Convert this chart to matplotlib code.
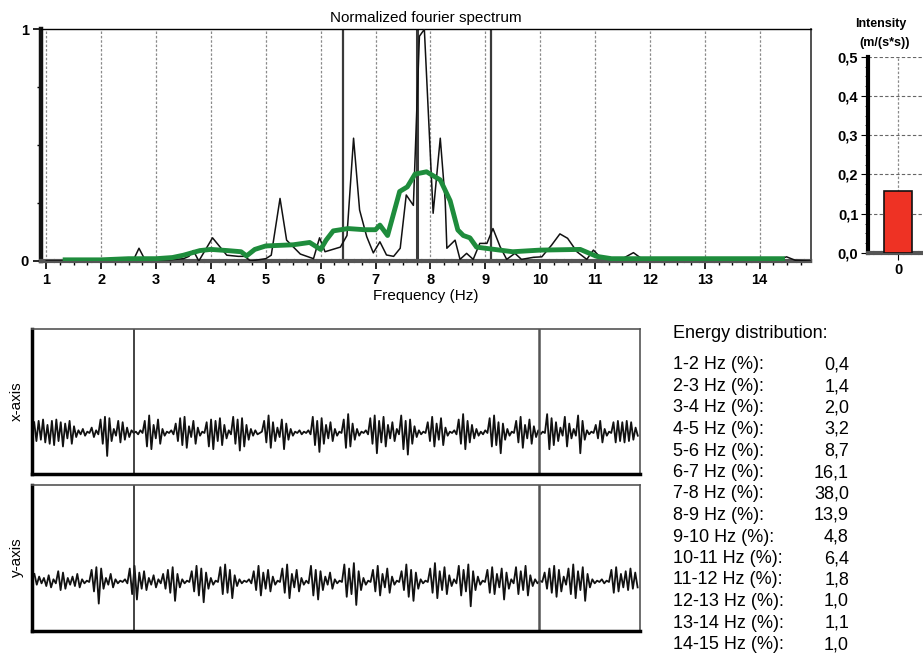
import matplotlib
matplotlib.use("Agg")
import matplotlib.pyplot as plt
import numpy as np

plt.rcParams['font.family'] = ['Liberation Sans', 'DejaVu Sans']

# spectrum (raw, black)
spec_f = [1.00, 1.50, 2.00, 2.50, 2.58, 2.69, 2.80, 3.00, 3.25, 3.50, 3.60, 3.68, 3.78,
          4.03, 4.29, 4.50, 4.62, 4.72, 5.00, 5.10, 5.26, 5.38, 5.63, 5.87, 5.98, 6.08,
          6.36, 6.48, 6.60, 6.71, 6.84, 6.96, 7.08, 7.20, 7.33, 7.45, 7.56, 7.69, 7.80,
          7.89, 8.05, 8.18, 8.27, 8.30, 8.45, 8.54, 8.66, 8.78, 8.90, 9.03, 9.14, 9.27,
          9.39, 9.54, 9.66, 9.88, 10.03, 10.21, 10.36, 10.50, 10.67, 10.85, 10.97, 11.09,
          11.46, 11.70, 11.85, 12.50, 13.50, 14.30, 14.49, 14.65, 14.92]
spec_v = [0.00, 0.00, 0.00, 0.00, 0.00, 0.055, 0.005, 0.005, 0.005, 0.01, 0.02, 0.045, 0.00,
          0.10, 0.025, 0.02, 0.02, 0.00, 0.01, 0.025, 0.27, 0.09, 0.03, 0.01, 0.10, 0.04,
          0.06, 0.11, 0.53, 0.22, 0.105, 0.035, 0.083, 0.026, 0.02, 0.055, 0.285, 0.24, 0.97,
          1.00, 0.206, 0.53, 0.26, 0.055, 0.09, 0.007, 0.033, 0.007, 0.076, 0.076, 0.14, 0.062,
          0.007, 0.033, 0.007, 0.016, 0.018, 0.069, 0.117, 0.098, 0.04, 0.007, 0.047, 0.018,
          0.005, 0.036, 0.01, 0.003, 0.003, 0.003, 0.018, 0.003, 0.0]

# smoothed spectrum (green)
smooth_f = [1.30, 2.00, 2.50, 3.00, 3.30, 3.50, 3.80, 4.00, 4.30, 4.55, 4.65, 4.80, 5.00,
            5.50, 5.80, 5.90, 6.00, 6.10, 6.23, 6.50, 6.80, 7.00, 7.08, 7.22, 7.44, 7.58,
            7.72, 7.93, 8.18, 8.36, 8.50, 8.60, 8.72, 8.84, 9.00, 9.50, 10.00, 10.73, 11.03,
            11.30, 12.00, 13.00, 14.00, 14.46]
smooth_v = [0.005, 0.005, 0.01, 0.01, 0.015, 0.025, 0.045, 0.05, 0.045, 0.04, 0.022, 0.05, 0.065,
            0.07, 0.08, 0.065, 0.05, 0.09, 0.13, 0.14, 0.135, 0.135, 0.155, 0.11, 0.30, 0.32,
            0.375, 0.385, 0.35, 0.26, 0.134, 0.11, 0.10, 0.06, 0.055, 0.04, 0.047, 0.05, 0.02,
            0.01, 0.01, 0.01, 0.01, 0.01]

marker_freqs = [6.4, 7.75, 9.1]
intensity = [0.157]

bands = ['1-2 Hz (%):', '2-3 Hz (%):', '3-4 Hz (%):', '4-5 Hz (%):', '5-6 Hz (%):',
         '6-7 Hz (%):', '7-8 Hz (%):', '8-9 Hz (%):', '9-10 Hz (%):', '10-11 Hz (%):',
         '11-12 Hz (%):', '12-13 Hz (%):', '13-14 Hz (%):', '14-15 Hz (%):']
energy = ['0,4', '1,4', '2,0', '3,2', '8,7', '16,1', '38,0', '13,9', '4,8', '6,4',
          '1,8', '1,0', '1,1', '1,0']

# time signals (arbitrary units, up = positive)
sig_x = [8, -6, 9, -5, 10, -7, 6, -8, 9, -9, 10, -6, 8, -10, 7, -4, 9, -8, 5, -3,
         2, -1, 3, -2, 1, 0, 4, -3, 2, -1,
         10, -8, 12, -17, 11, -6, 3, -2, 9, -7, 8, -5,
         4, -3, 2, 0, 1, -1, 2, 0,
         9, -10, 13, -12, 6, -4, 10, -8, 3, -2, 1, 0, 2, -1,
         7, -6, 11, -9, 12, -11, 5, -3, 9, -8, 4, -2, 1, 0,
         8, -10, 10, -12, 9, -6, 11, -9, 6, -4, 2, -1,
         12, -8, 10, -13, 11, -10, 6, -5, 3, -2, 2, -1, 0, 1,
         9, -7, 13, -11, 8, -6, 4, -3, 10, -12, 7, -5,
         3, -2, 1, 0, 2, -1, 1, 0, 2, -1,
         12, -9, 9, -14, 11, -8, 6, -4, 8, -6, 3, -2, 1, 0,
         10, -11, 14, -10, 7, -5, 3, -2, 1, 0, 2, -1,
         11, -8, 13, -15, 9, -7, 12, -10, 6, -4, 8, -6, 3, -1,
         13, -12, 9, -16, 10, -8, 5, -3, 2, -1, 1, 0,
         8, -6, 12, -10, 7, -5, 11, -9, 4, -2, 1, 0, 2, -1,
         10, -8, 14, -12, 9, -7, 6, -4, 3, -2, 1, -1, 2, 0,
         11, -10, 13, -9, 8, -15, 7, -5, 3, -2, 1, 0,
         9, -7, 12, -11, 6, -4, 10, -8, 5, -3, 2, -1, 1, 0,
         14, -12, 11, -9, 8, -6, 4, -2, 12, -10, 7, -4,
         3, -2, 13, -15, 9, -5, 2, -1, 1, 0,
         6, -4, 9, -7, 3, -2, 1, 0, 8, -7, 9, -6,
         8, -7, 9, -6, 8, -5, 4, -2]
sig_y = [6, -2, 4, -1, 3, -3, 5, -4, 2, -1, 8, -6, 7, -5, 3, -2,
         4, -3, 6, -4, 2, -1, 1, 0,
         9, -7, 11, -16, 10, -5, 3, -2, 6, -4, 2, -1,
         1, 0, 2, -1,
         10, -9, 12, -13, 7, -5, 8, -6, 3, -2, 5, -4, 2, -1,
         6, -5, 9, -8, 11, -14, 6, -4, 2, -1, 1, 0,
         8, -7, 12, -10, 10, -15, 7, -5, 3, -2, 1, 0,
         11, -9, 13, -8, 9, -12, 5, -3, 2, -1, 1, 0, 2, -1,
         8, -6, 12, -10, 7, -5, 9, -7, 4, -2, 1, 0,
         10, -8, 13, -12, 6, -4, 9, -7, 3, -2, 1, -1,
         12, -10, 9, -13, 8, -6, 4, -2, 7, -5, 2, -1, 1, 0,
         13, -11, 10, -9, 14, -17, 8, -6, 3, -2, 1, 0,
         9, -7, 12, -10, 6, -4, 10, -8, 4, -2, 1, 0,
         8, -6, 13, -11, 9, -14, 7, -5, 2, -1, 1, 0,
         10, -8, 14, -12, 8, -6, 11, -9, 5, -3, 2, -1,
         12, -10, 9, -7, 13, -18, 8, -6, 4, -2, 1, 0,
         9, -8, 11, -9, 6, -4, 10, -13, 7, -5, 2, -1,
         11, -9, 8, -6, 12, -10, 5, -3, 2, -1, 1, 0,
         7, -5, 10, -8, 12, -11, 9, -7, 4, -2,
         10, -9, 13, -12, 8, -6, 11, -14, 6, -4, 2, -1,
         1, 0, 2, -1, 1, 0, 9, -8, 11, -7, 6, -4,
         8, -6, 10, -5, 7, -4]
cursor_pos = [0.164, 0.834]

W, H = 923, 664
fig = plt.figure(figsize=(W / 100, H / 100), dpi=100)


def box(l, t, r, b):
    return [l / W, 1 - b / H, (r - l) / W, (b - t) / H]


# ---- spectrum ----
ax = fig.add_axes(box(41.3, 29.3, 810.7, 261))
ax.set_xlim(0.91, 14.93)
ax.set_ylim(0, 1)
for f in range(1, 15):
    ax.axvline(f, color='#8a8a8a', lw=0.9, ls=(0, (2, 1.5)), zorder=1)
for f in marker_freqs:
    ax.axvline(f, color='#3a3a3a', lw=1.6 if f != 7.75 else 2.2, zorder=2)
ax.plot(spec_f, spec_v, color='#111111', lw=1.1, zorder=3)
ax.plot(smooth_f, smooth_v, color='#1e8c3c', lw=3.5, solid_capstyle='butt', zorder=4)
ax.spines['left'].set_linewidth(3.2)
ax.spines['left'].set_color('#111111')
ax.spines['right'].set_linewidth(1.2)
ax.spines['right'].set_color('#333333')
ax.spines['top'].set_linestyle((0, (1, 1)))
ax.spines['top'].set_linewidth(1.0)
ax.spines['bottom'].set_linestyle((0, (1, 0.8)))
ax.spines['bottom'].set_linewidth(3.0)
ax.spines['bottom'].set_color('#555555')
ax.set_xticks(range(1, 15))
ax.set_xticks(np.arange(1, 14.9, 0.25), minor=True)
ax.set_yticks([0, 1])
ax.set_yticklabels(['0', '1'])
ax.set_yticks([0.25, 0.5, 0.75], minor=True)
ax.tick_params(axis='both', which='major', length=6, width=1.2, labelsize=10.5, pad=3)
ax.tick_params(axis='both', which='minor', length=3, width=1)
for lab in ax.get_xticklabels() + ax.get_yticklabels():
    lab.set_fontweight('bold')
ax.set_title('Normalized fourier spectrum', fontsize=11, pad=5)
ax.set_xlabel('Frequency (Hz)', fontsize=11, labelpad=1)

# ---- intensity bar ----
ax2 = fig.add_axes(box(868, 56.7, 980, 253))
ax2.set_xlim(-0.536, 1.464)
ax2.set_ylim(0, 0.5)
ax2.bar([0], intensity, width=0.5, color='#ee3224', edgecolor='#111111', lw=1.2, zorder=3)
ax2.set_yticks(np.arange(0, 0.51, 0.1))
ax2.set_yticklabels(['0,0', '0,1', '0,2', '0,3', '0,4', '0,5'])
ax2.set_yticks(np.arange(0, 0.5, 0.025), minor=True)
ax2.set_xticks([0])
ax2.grid(axis='y', color='#666666', lw=0.8, ls=(0, (3, 2)))
ax2.axvline(0, color='#8a8a8a', lw=0.9, ls=(0, (2, 1.5)), zorder=1)
ax2.spines['left'].set_linewidth(3.0)
ax2.spines['bottom'].set_linestyle((0, (1, 0.8)))
ax2.spines['bottom'].set_linewidth(3.0)
ax2.spines['bottom'].set_color('#555555')
ax2.spines['top'].set_visible(False)
ax2.tick_params(axis='both', which='major', length=5, labelsize=10.5, pad=2)
ax2.tick_params(axis='y', which='minor', length=2.5)
for lab in ax2.get_xticklabels() + ax2.get_yticklabels():
    lab.set_fontweight('bold')
fig.text(881 / W, 1 - 24 / H, 'Intensity', ha='center', va='center', fontsize=9, fontweight='bold')
fig.text(885 / W, 1 - 43 / H, '(m/(s*s))', ha='center', va='center', fontsize=9, fontweight='bold')

# ---- time signals ----
gain = 1.35  # pixels per signal unit
for sig, top, bot, centre, name in [(sig_x, 329.3, 474, 433, 'x-axis'),
                                    (sig_y, 485, 630.7, 582, 'y-axis')]:
    a = fig.add_axes(box(32, top, 640, bot))
    n = len(sig)
    a.plot(np.arange(n), sig, color='#111111', lw=1.3)
    a.set_xlim(-1, n)
    a.set_ylim(-(bot - centre) / gain, (centre - top) / gain)
    for c in cursor_pos:
        a.axvline(c * n, color='#222222' if c < 0.5 else '#555555', lw=1.2 if c < 0.5 else 1.8)
    a.set_xticks([])
    a.set_yticks([])
    a.spines['left'].set_linewidth(2.5)
    a.spines['bottom'].set_linewidth(2.5)
    a.spines['top'].set_color('#555555')
    a.spines['right'].set_color('#555555')
    a.spines['top'].set_linewidth(1.2)
    a.spines['right'].set_linewidth(1.2)

fig.text(17 / W, 1 - 401 / H, 'x-axis', rotation=90, ha='center', va='center', fontsize=11)
fig.text(17 / W, 1 - 557 / H, 'y-axis', rotation=90, ha='center', va='center', fontsize=11)

# ---- energy distribution ----
fig.text(673 / W, 1 - 333 / H, 'Energy distribution:', ha='left', va='center', fontsize=13)
for i, (b, e) in enumerate(zip(bands, energy)):
    y = 1 - (365 + i * 21.5) / H
    fig.text(673 / W, y, b, ha='left', va='center', fontsize=13)
    fig.text(849 / W, y, e, ha='right', va='center', fontsize=13)

fig.savefig('out.png', dpi=100)
